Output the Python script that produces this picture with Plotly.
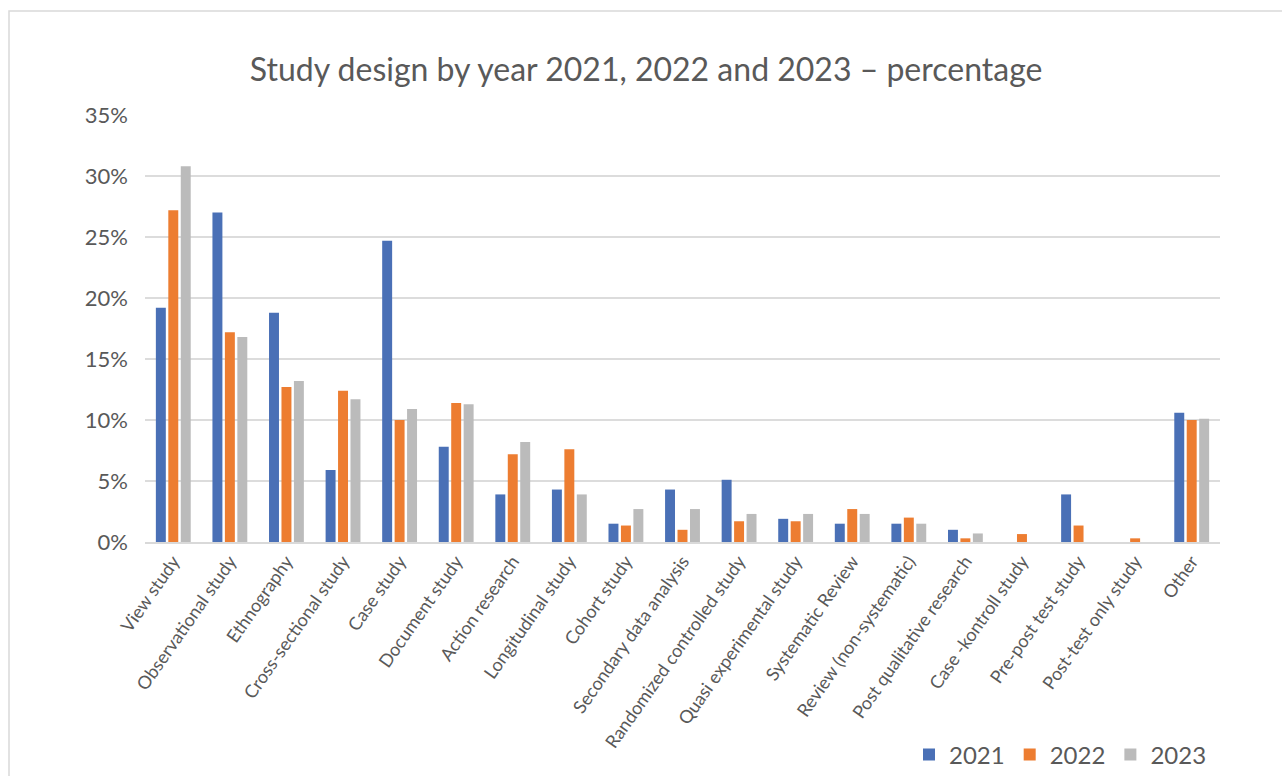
import plotly.graph_objects as go

categories = ["View study", "Observational study", "Ethnography", "Cross-sectional study",
              "Case study", "Document study", "Action research", "Longitudinal study",
              "Cohort study", "Secondary data analysis", "Randomized controlled study",
              "Quasi experimental study", "Systematic Review", "Review (non-systematic)",
              "Post qualitative research", "Case -kontroll study", "Pre-post test study",
              "Post-test only study", "Other"]
y2021 = [19.2, 27.0, 18.8, 5.9, 24.7, 7.8, 3.9, 4.3, 1.5, 4.3, 5.1, 1.9, 1.5, 1.5, 1.0, 0.0, 3.9, 0.0, 10.6]
y2022 = [27.2, 17.2, 12.7, 12.4, 10.0, 11.4, 7.2, 7.6, 1.35, 1.0, 1.7, 1.7, 2.7, 2.0, 0.3, 0.65, 1.35, 0.3, 10.0]
y2023 = [30.8, 16.8, 13.2, 11.7, 10.9, 11.3, 8.2, 3.9, 2.7, 2.7, 2.3, 2.3, 2.3, 1.5, 0.7, 0.0, 0.0, 0.0, 10.1]
years = ["2021", "2022", "2023"]
colors = ["#4A70B6", "#ED7D31", "#BBBBBB"]
y_ticks = [0, 5, 10, 15, 20, 25, 30, 35]
y_tick_labels = [f"{t}%" for t in y_ticks]

font_family = "Lato, 'Noto Sans', sans-serif"
fig = go.Figure()
for name, vals, col in zip(years, [y2021, y2022, y2023], colors):
    fig.add_trace(go.Bar(x=categories, y=vals, name=name, marker_color=col,
                         marker_line_width=0))

W, H = 1282, 776
L, R, T, B = 145, 62, 115, 234
pw, ph = W - L - R, H - T - B

fig.update_layout(
    width=W, height=H,
    margin=dict(l=L, r=R, t=T, b=B, autoexpand=False),
    paper_bgcolor="white", plot_bgcolor="white",
    barmode="group", bargap=0.34, bargroupgap=0.2,
    title=dict(text="Study design by year 2021, 2022 and 2023 – percentage",
               x=0.504, xanchor="center", y=1 - 70 / H, yanchor="middle",
               font=dict(family=font_family, size=32, color="#595959")),
    font=dict(family=font_family, color="#595959"),
    xaxis=dict(tickangle=-55, tickfont=dict(size=18, color="#595959"),
               showline=True, linecolor="#d9d9d9", linewidth=1.5, ticks="",
               showgrid=False, automargin=False),
    yaxis=dict(range=[0, 35], tickvals=y_ticks, ticktext=y_tick_labels,
               tickfont=dict(size=22, color="#595959"), showgrid=True,
               gridcolor="#dcdcdc", gridwidth=1.5, zeroline=False, showline=False,
               ticks="", ticklabelstandoff=16, automargin=False),
    legend=dict(orientation="h", x=(1212 - L) / pw, xanchor="right", y=-(755 - 542) / ph,
                yanchor="middle", font=dict(size=24, color="#595959"),
                itemwidth=30, traceorder="normal"),
    shapes=[dict(type="rect", xref="paper", yref="paper",
                 x0=(9 - L) / pw, x1=(1295 - L) / pw,
                 y0=-(800 - (H - B)) / ph, y1=1 + (T - 11) / ph,
                 line=dict(color="#d9d9d9", width=1.5), layer="below")],
)

fig.write_html("out.html", config={"responsive": False, "displayModeBar": False},
               post_script="document.body.style.margin='0';document.body.style.overflow='hidden';")
